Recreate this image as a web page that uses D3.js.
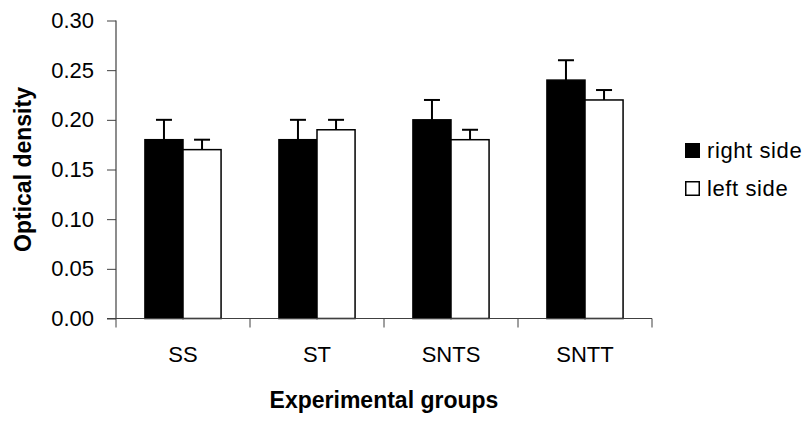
<!DOCTYPE html>
<html>
<head>
<meta charset="utf-8">
<script src="https://cdn.jsdelivr.net/npm/d3@7"></script>
<style>
  body { margin: 0; background: #fff; }
  text { font-family: Arial, "Liberation Sans", sans-serif; }
</style>
</head>
<body>
<script>
// chart data
const groups = ['SS', 'ST', 'SNTS', 'SNTT'];
const seriesNames = ['right side', 'left side'];
const rightSide = [0.18, 0.18, 0.20, 0.24];
const leftSide = [0.17, 0.19, 0.18, 0.22];
const rightErr = [0.02, 0.02, 0.02, 0.02];
const leftErr = [0.01, 0.01, 0.01, 0.01];
const yTicks = [0, 0.05, 0.10, 0.15, 0.20, 0.25, 0.30];

const fills = ['#000', '#fff'];

const width = 812, height = 421;
const margin = { top: 20.5, right: 160, bottom: 102.5, left: 116 };
const plotW = 652 - margin.left;
const plotH = height - margin.top - margin.bottom;

const data = groups.map((g, i) => ({
    group: g,
    values: [
        { name: seriesNames[0], value: rightSide[i], err: rightErr[i] },
        { name: seriesNames[1], value: leftSide[i], err: leftErr[i] }
    ]
}));

const svg = d3.select('body').append('svg')
    .attr('width', width)
    .attr('height', height);

const g = svg.append('g')
    .attr('transform', `translate(${margin.left},${margin.top})`);

const x0 = d3.scaleBand()
    .domain(groups)
    .range([0, plotW])
    .padding(0);

const x1 = d3.scaleBand()
    .domain(seriesNames)
    .range([0, x0.bandwidth()])
    .paddingInner(0)
    .paddingOuter(0.76);

const y = d3.scaleLinear()
    .domain([0, 0.30])
    .range([plotH, 0]);

// bars
const grp = g.selectAll('.group')
    .data(data)
    .enter().append('g')
    .attr('class', 'group')
    .attr('transform', d => `translate(${x0(d.group)},0)`);

grp.selectAll('rect')
    .data(d => d.values)
    .enter().append('rect')
    .attr('x', d => x1(d.name))
    .attr('y', d => y(d.value))
    .attr('width', x1.bandwidth())
    .attr('height', d => plotH - y(d.value))
    .attr('fill', (d, i) => fills[i])
    .attr('stroke', '#000')
    .attr('stroke-width', 1.5);

// error bars (upper only)
const eb = grp.selectAll('.err')
    .data(d => d.values)
    .enter().append('g')
    .attr('class', 'err')
    .attr('stroke', '#000')
    .attr('stroke-width', 2);

eb.append('line')
    .attr('x1', d => x1(d.name) + x1.bandwidth() / 2)
    .attr('x2', d => x1(d.name) + x1.bandwidth() / 2)
    .attr('y1', d => y(d.value))
    .attr('y2', d => y(d.value + d.err));

eb.append('line')
    .attr('x1', d => x1(d.name) + x1.bandwidth() / 2 - 8)
    .attr('x2', d => x1(d.name) + x1.bandwidth() / 2 + 8)
    .attr('y1', d => y(d.value + d.err))
    .attr('y2', d => y(d.value + d.err));

// axes
const yAxis = g.append('g')
    .call(d3.axisLeft(y).tickValues(yTicks).tickFormat(d3.format('.2f')).tickSize(9).tickPadding(13));

const xAxis = g.append('g')
    .attr('transform', `translate(0,${plotH})`)
    .call(d3.axisBottom(x0).tickSize(0).tickPadding(28));

// category separator ticks
xAxis.selectAll('.sep')
    .data(groups.concat(['end']))
    .enter().append('line')
    .attr('class', 'sep')
    .attr('x1', (d, i) => i * x0.step())
    .attr('x2', (d, i) => i * x0.step())
    .attr('y1', 0)
    .attr('y2', 9)
    .attr('stroke', '#404040');

[yAxis, xAxis].forEach(a => {
    a.selectAll('.domain').attr('stroke', '#404040').attr('stroke-width', 1.2);
    a.selectAll('.tick line').attr('stroke', '#404040');
    a.selectAll('text')
        .attr('fill', '#000')
        .style('font-size', '22px');
});
yAxis.selectAll('.domain').attr('d', `M0,${plotH}V0`);
xAxis.selectAll('.domain').attr('d', `M-9,0H${plotW}`);

// axis titles
svg.append('text')
    .attr('x', margin.left + plotW / 2)
    .attr('y', 408)
    .attr('text-anchor', 'middle')
    .style('font-size', '23px')
    .style('font-weight', 'bold')
    .text('Experimental groups');

svg.append('text')
    .attr('transform', `translate(31,${margin.top + plotH / 2}) rotate(-90)`)
    .attr('text-anchor', 'middle')
    .style('font-size', '23px')
    .style('font-weight', 'bold')
    .text('Optical density');

// legend
const legend = svg.append('g')
    .attr('transform', 'translate(685,143)');

const li = legend.selectAll('.item')
    .data(seriesNames)
    .enter().append('g')
    .attr('class', 'item')
    .attr('transform', (d, i) => `translate(0,${i * 38})`);

li.append('rect')
    .attr('x', 0.75)
    .attr('y', 0.75)
    .attr('width', 13.5)
    .attr('height', 13.5)
    .attr('fill', (d, i) => fills[i])
    .attr('stroke', '#000')
    .attr('stroke-width', 1.5);

li.append('text')
    .attr('x', 22)
    .attr('y', 15)
    .style('font-size', '22px')
    .style('letter-spacing', '0.6px')
    .text(d => d);
</script>
</body>
</html>
